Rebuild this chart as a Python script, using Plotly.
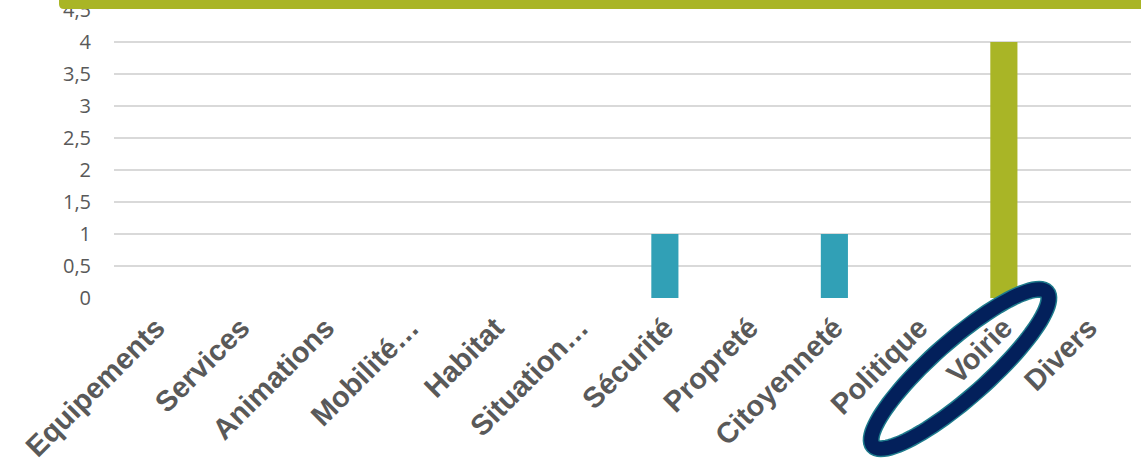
import math
import plotly.graph_objects as go

categories = ["Equipements", "Services", "Animations", "Mobilité…", "Habitat", "Situation…",
              "Sécurité", "Propreté", "Citoyenneté", "Politique", "Voirie", "Divers"]
values = [0, 0, 0, 0, 0, 0, 1, 0, 1, 0, 4, 0]
bar_colors = ["#31A0B6"] * 10 + ["#A9B526", "#31A0B6"]

W, H = 1141, 469
L, R, T, B = 114, 10, 10, 171
PW, PH = W - L - R, H - T - B


def px(x):
    return (x - L) / PW


def py(y):
    return (H - B - y) / PH


fig = go.Figure()
fig.add_trace(go.Bar(
    x=categories, y=values, marker=dict(color=bar_colors, line=dict(width=0)),
    width=0.32, showlegend=False,
))

# ellipse ring around "Voirie"
cx, cy, a, b, th = 960, 369, 116, 28, math.radians(41.5)
pts = []
for i in range(97):
    t = 2 * math.pi * i / 96
    ex, ey = a * math.cos(t), b * math.sin(t)
    x = cx + ex * math.cos(th) + ey * math.sin(th)
    y = cy - ex * math.sin(th) + ey * math.cos(th)
    pts.append((px(x), py(y)))
path = "M " + " L ".join(f"{x:.5f},{y:.5f}" for x, y in pts) + " Z"

# top green band with rounded bottom-left corner
x0, x1, y0, y1, r = 59, 1150, -2, 9, 5
band = (f"M {px(x0)},{py(y0)} L {px(x1)},{py(y0)} L {px(x1)},{py(y1)} "
        f"L {px(x0 + r)},{py(y1)} Q {px(x0)},{py(y1)} {px(x0)},{py(y1 - r)} Z")

fig.update_layout(
    width=W, height=H,
    margin=dict(l=L, r=R, t=T, b=B, autoexpand=False),
    paper_bgcolor="white", plot_bgcolor="white",
    separators=", ",
    xaxis=dict(
        type="category", tickangle=-45, showgrid=False, showline=False, ticks="",
        tickfont=dict(family="Liberation Sans, Arial", size=29, color="#595959", weight="bold"),
        ticklabelstandoff=6,
    ),
    yaxis=dict(
        range=[0, 4.5005], tickmode="array",
        tickvals=[0, 0.5, 1, 1.5, 2, 2.5, 3, 3.5, 4, 4.5],
        showgrid=True, gridcolor="#D9D9D9", gridwidth=1.5,
        zeroline=False, showline=False, ticks="",
        tickfont=dict(family="Open Sans, Lato, sans-serif", size=20, color="#595959"),
        ticklabelstandoff=22, ticklabeloverflow="allow",
    ),
    shapes=[
        dict(type="path", xref="paper", yref="paper", path=band,
             fillcolor="#A9B526", line=dict(width=0), layer="above"),
        dict(type="path", xref="paper", yref="paper", path=path,
             fillcolor="rgba(0,0,0,0)", line=dict(color="#1E7B8C", width=17), layer="above"),
        dict(type="path", xref="paper", yref="paper", path=path,
             fillcolor="rgba(0,0,0,0)", line=dict(color="#03205B", width=14), layer="above"),
    ],
)

fig.write_html("out.html", config={"displayModeBar": False},
               post_script="document.body.style.margin='0';document.body.style.overflow='hidden';")
